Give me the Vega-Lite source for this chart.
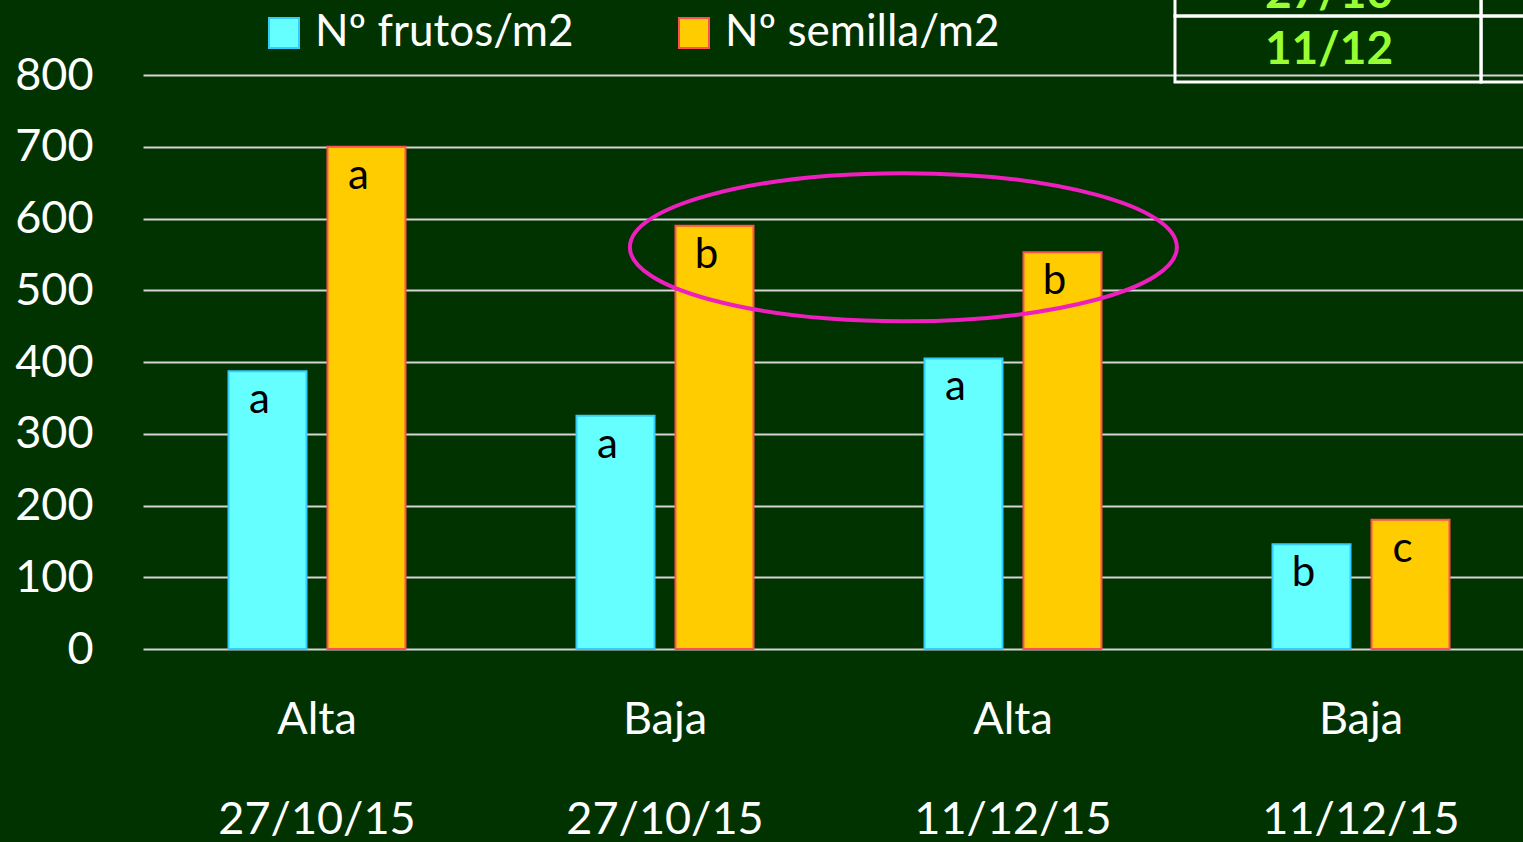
{
  "$schema": "https://vega.github.io/schema/vega-lite/v6.json",
  "autosize": "none",
  "width": 1392,
  "height": 574,
  "padding": {"left": 143, "top": 75, "right": 0, "bottom": 193},
  "background": "#003300",
  "config": {
    "view": {"stroke": null},
    "font": "Lato",
    "axisY": {
      "title": null, "domain": false, "ticks": false,
      "labelFontSize": 45, "labelColor": "#ffffff", "labelPadding": 50,
      "grid": true, "gridColor": "#d4d4d4", "gridWidth": 2, "gridOpacity": 1
    }
  },
  "datasets": {
    "bars": [
      {"grupo": "Alta|27/10/15", "serie": "Nº frutos/m2", "valor": 387, "letra": "a"},
      {"grupo": "Alta|27/10/15", "serie": "Nº semilla/m2", "valor": 700, "letra": "a"},
      {"grupo": "Baja|27/10/15", "serie": "Nº frutos/m2", "valor": 325, "letra": "a"},
      {"grupo": "Baja|27/10/15", "serie": "Nº semilla/m2", "valor": 590, "letra": "b"},
      {"grupo": "Alta|11/12/15", "serie": "Nº frutos/m2", "valor": 405, "letra": "a"},
      {"grupo": "Alta|11/12/15", "serie": "Nº semilla/m2", "valor": 553, "letra": "b"},
      {"grupo": "Baja|11/12/15", "serie": "Nº frutos/m2", "valor": 146, "letra": "b"},
      {"grupo": "Baja|11/12/15", "serie": "Nº semilla/m2", "valor": 180, "letra": "c"}
    ],
    "notes": [{"cx": 2.185, "cy": 560}],
    "table": [
      {"x": 2.9655, "x2": 3.845, "y": 790.2, "y2": 882.2},
      {"x": 3.845, "x2": 4.2, "y": 790.2, "y2": 882.2},
      {"x": 2.9655, "x2": 3.845, "y": 882.2, "y2": 990},
      {"x": 3.845, "x2": 4.2, "y": 882.2, "y2": 990}
    ],
    "tabletext": [
      {"tx": 3.408, "ty": 913, "fecha": "27/10"},
      {"tx": 3.408, "ty": 835, "fecha": "11/12"}
    ]
  },
  "layer": [
    {
      "data": {"name": "bars"},
      "encoding": {
        "x": {
          "field": "grupo", "type": "nominal", "sort": null,
          "scale": {"paddingInner": 0, "paddingOuter": 0},
          "axis": {
            "title": null, "domain": false, "ticks": false,
            "labelExpr": "split(datum.value, '|')",
            "labelFontSize": 45, "labelColor": "#ffffff", "labelLineHeight": 100,
            "labelPadding": 48, "labelAngle": 0, "labelLimit": 0
          }
        },
        "xOffset": {
          "field": "serie", "type": "nominal",
          "scale": {"domain": ["Nº frutos/m2", "Nº semilla/m2"], "paddingInner": 0.212, "paddingOuter": 0.864}
        },
        "y": {
          "field": "valor", "type": "quantitative",
          "scale": {"domain": [0, 800], "nice": false},
          "axis": {"values": [0, 100, 200, 300, 400, 500, 600, 700, 800]}
        }
      },
      "layer": [
        {
          "mark": {"type": "bar", "strokeWidth": 2},
          "encoding": {
            "color": {
              "field": "serie", "type": "nominal",
              "scale": {"domain": ["Nº frutos/m2", "Nº semilla/m2"], "range": ["#66ffff", "#ffcc00"]},
              "legend": {
                "title": null, "orient": "none", "direction": "horizontal",
                "legendX": 119, "legendY": -64,
                "symbolType": "square", "symbolSize": 900, "symbolStrokeWidth": 2,
                "labelFontSize": 44, "labelColor": "#ffffff", "labelOffset": 9,
                "labelLimit": 0, "columnPadding": 98
              }
            },
            "stroke": {
              "field": "serie", "type": "nominal",
              "scale": {"domain": ["Nº frutos/m2", "Nº semilla/m2"], "range": ["#33ccff", "#ff5050"]},
              "legend": {
                "title": null, "orient": "none", "direction": "horizontal",
                "legendX": 119, "legendY": -64,
                "symbolType": "square", "symbolSize": 900, "symbolStrokeWidth": 2,
                "labelFontSize": 44, "labelColor": "#ffffff", "labelOffset": 9,
                "labelLimit": 0, "columnPadding": 98
              }
            }
          }
        },
        {
          "mark": {"type": "text", "baseline": "top", "align": "center", "dy": 9, "dx": -8, "fontSize": 42, "color": "#000000"},
          "encoding": {"text": {"field": "letra", "type": "nominal"}}
        }
      ]
    },
    {
      "data": {"name": "notes"},
      "mark": {
        "type": "point",
        "shape": "M-1,0A1,0.2706,0,1,0,1,0A1,0.2706,0,1,0,-1,0Z",
        "size": 299209,
        "filled": false,
        "stroke": "#ee1fbe",
        "strokeWidth": 4,
        "opacity": 1
      },
      "encoding": {
        "x": {"field": "cx", "type": "quantitative", "scale": {"domain": [0, 4], "nice": false, "zero": false}, "axis": null},
        "y": {"field": "cy", "type": "quantitative", "scale": {"domain": [0, 800], "nice": false}}
      }
    },
    {
      "data": {"name": "table"},
      "mark": {"type": "rect", "fill": null, "fillOpacity": 0, "stroke": "#ffffff", "strokeWidth": 3, "clip": false},
      "encoding": {
        "x": {"field": "x", "type": "quantitative", "scale": {"domain": [0, 4], "nice": false, "zero": false}, "axis": null},
        "x2": {"field": "x2"},
        "y": {"field": "y", "type": "quantitative", "scale": {"domain": [0, 800], "nice": false}},
        "y2": {"field": "y2"}
      }
    },
    {
      "data": {"name": "tabletext"},
      "mark": {"type": "text", "fontSize": 46, "fontWeight": "bold", "color": "#99ff33", "baseline": "middle", "align": "center"},
      "encoding": {
        "x": {"field": "tx", "type": "quantitative", "scale": {"domain": [0, 4], "nice": false, "zero": false}, "axis": null},
        "y": {"field": "ty", "type": "quantitative", "scale": {"domain": [0, 800], "nice": false}},
        "text": {"field": "fecha", "type": "nominal"}
      }
    }
  ],
  "resolve": {"scale": {"x": "independent", "y": "shared"}}
}
